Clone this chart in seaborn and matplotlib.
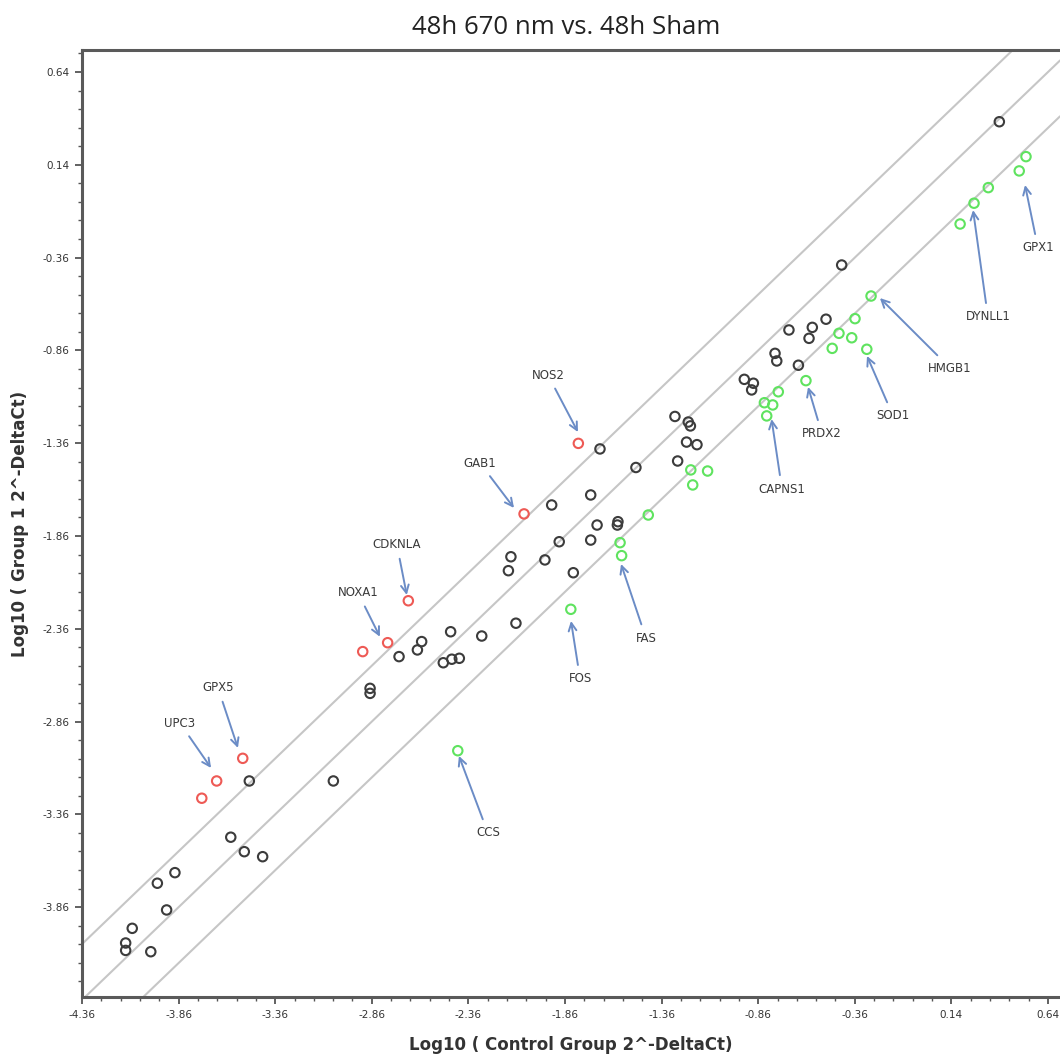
import numpy as np
import pandas as pd
import matplotlib
matplotlib.use("Agg")
import matplotlib.pyplot as plt
import seaborn as sns
from matplotlib.ticker import FixedLocator, FixedFormatter

# ---------------- data ----------------
unchanged_x = [0.388, -0.428, -0.509, -0.580, -0.597, -0.701, -0.773, -0.764, -0.652, -0.932,
               -0.885, -0.894, -1.291, -1.222, -1.211, -1.231, -1.177, -1.277, -1.679, -1.493,
               -1.929, -1.727, -1.586, -1.589, -1.694, -1.890, -1.727, -2.140, -2.153, -1.964,
               -1.817, -2.114, -2.291, -2.452, -2.602, -2.624, -2.719, -2.490, -2.446, -2.407,
               -2.869, -2.869, -3.494, -3.059, -3.590, -3.520, -3.425, -3.879, -3.970, -3.922,
               -4.100, -4.134, -4.134, -4.004]
unchanged_y = [0.372, -0.400, -0.692, -0.736, -0.795, -0.750, -0.876, -0.917, -0.940, -1.016,
               -1.037, -1.073, -1.216, -1.246, -1.267, -1.354, -1.368, -1.456, -1.391, -1.491,
               -1.693, -1.639, -1.783, -1.801, -1.801, -1.891, -1.882, -1.972, -2.047, -1.989,
               -2.058, -2.330, -2.399, -2.376, -2.429, -2.474, -2.510, -2.543, -2.524, -2.519,
               -2.681, -2.708, -3.180, -3.180, -3.483, -3.561, -3.588, -3.674, -3.731, -3.875,
               -3.974, -4.053, -4.093, -4.100]

up_x = [-3.740, -3.663, -3.528, -2.907, -2.778, -2.671, -2.072, -1.791]
up_y = [-3.273, -3.180, -3.058, -2.483, -2.435, -2.209, -1.741, -1.361]

down_x = [-2.415, -1.830, -1.575, -1.567, -1.429, -1.209, -1.122, -1.199, -0.828, -0.785,
          -0.756, -0.816, -0.613, -0.477, -0.442, -0.376, -0.359, -0.298, -0.276, 0.185,
          0.257, 0.331, 0.491, 0.526]
down_y = [-3.017, -2.255, -1.896, -1.966, -1.747, -1.504, -1.510, -1.585, -1.142, -1.154,
          -1.083, -1.213, -1.023, -0.849, -0.768, -0.792, -0.689, -0.854, -0.567, -0.179,
          -0.067, 0.017, 0.107, 0.184]

fold_line_offsets = [-0.301, 0.0, 0.301]

tick_values = [-4.36, -3.86, -3.36, -2.86, -2.36, -1.86, -1.36, -0.86, -0.36, 0.14, 0.64]
tick_labels = ["-4.36", "-3.86", "-3.36", "-2.86", "-2.36", "-1.86", "-1.36", "-0.86", "-0.36", "0.14", "0.64"]

gene_labels = ["NOS2", "GAB1", "CDKNLA", "NOXA1", "GPX5", "UPC3", "CCS", "FOS", "FAS",
               "CAPNS1", "PRDX2", "SOD1", "HMGB1", "DYNLL1", "GPX1"]
# layout of the annotations: text position and arrow tip (data coords)
label_text_pos = [(-1.948, -0.993), (-2.300, -1.467), (-2.730, -1.908), (-2.931, -2.167),
                  (-3.656, -2.679), (-3.853, -2.868), (-2.259, -3.460), (-1.782, -2.630),
                  (-1.441, -2.410), (-0.737, -1.607), (-0.530, -1.310), (-0.162, -1.213),
                  (0.133, -0.955), (0.329, -0.680), (0.588, -0.308)]
label_tip_pos = [(-1.793, -1.300), (-2.124, -1.709), (-2.679, -2.178), (-2.818, -2.403),
                 (-3.553, -3.002), (-3.692, -3.110), (-2.409, -3.045), (-1.829, -2.318),
                 (-1.570, -2.011), (-0.791, -1.230), (-0.602, -1.057), (-0.297, -0.890),
                 (-0.230, -0.578), (0.252, -0.104), (0.521, 0.031)]

# ---------------- style ----------------
sns.set_style("ticks")
plt.rcParams["font.family"] = ["DejaVu Sans"]

fig = plt.figure(figsize=(10.6, 10.62), dpi=100)
ax = fig.add_axes([82 / 1060, 65 / 1062, 978 / 1060, 947 / 1062])

for off in fold_line_offsets:
    ax.axline((0, off), slope=1, color="#c6c6c6", lw=1.5, zorder=1)

groups = [
    (unchanged_x, unchanged_y, "#3c3c3c"),
    (up_x, up_y, "#ee5a55"),
    (down_x, down_y, "#5fe35f"),
]
for gx, gy, col in groups:
    df = pd.DataFrame({"x": gx, "y": gy})
    sns.scatterplot(data=df, x="x", y="y", ax=ax, marker="o", s=46,
                    facecolor="none", edgecolor=col, linewidth=1.5, zorder=3)

for name, tpos, tip in zip(gene_labels, label_text_pos, label_tip_pos):
    ax.annotate(name, xy=tip, xytext=tpos, ha="center", va="center",
                fontsize=8.5, color="#3a3a3a",
                arrowprops=dict(arrowstyle="->", color="#6b8cc6", lw=1.4,
                                shrinkA=3, shrinkB=0, mutation_scale=14),
                annotation_clip=False, zorder=4)

ax.set_xlim(-4.36, 0.702)
ax.set_ylim(-4.344, 0.7585)

ax.xaxis.set_major_locator(FixedLocator(tick_values))
ax.xaxis.set_major_formatter(FixedFormatter(tick_labels))
ax.yaxis.set_major_locator(FixedLocator(tick_values))
ax.yaxis.set_major_formatter(FixedFormatter(tick_labels))
minor = np.round(np.arange(-4.36, 0.75, 0.1), 2)
ax.xaxis.set_minor_locator(FixedLocator(minor))
ax.yaxis.set_minor_locator(FixedLocator(minor))

ax.tick_params(which="major", direction="out", length=5, width=1.3, color="#555555",
               labelsize=7.5, labelcolor="#333333", pad=4)
ax.tick_params(which="minor", direction="out", length=3, width=1.0, color="#555555")

for side in ["left", "bottom", "top"]:
    ax.spines[side].set_color("#5a5a5a")
    ax.spines[side].set_linewidth(2.2)
ax.spines["right"].set_visible(False)

ax.set_xlabel("Log10 ( Control Group 2^-DeltaCt)", fontsize=12, fontweight="bold",
              color="#333333", labelpad=12)
ax.set_ylabel("Log10 ( Group 1 2^-DeltaCt)", fontsize=12, fontweight="bold",
              color="#333333", labelpad=10)

fig.text(566 / 1060, 1 - 28 / 1062, "48h 670 nm vs. 48h Sham", ha="center", va="center",
         fontsize=18.5, color="#222222", family=["Open Sans", "DejaVu Sans"])

fig.savefig("out.png", dpi=100)
